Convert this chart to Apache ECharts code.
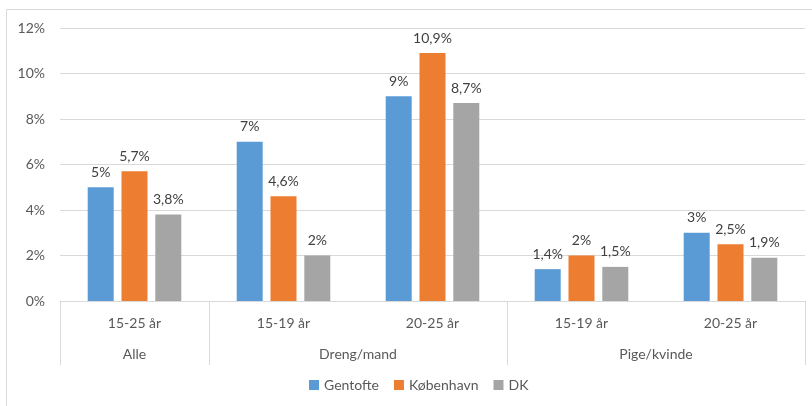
<!DOCTYPE html>
<html>
<head>
<meta charset="utf-8">
<script src="https://cdn.jsdelivr.net/npm/echarts@6/dist/echarts.min.js"></script>
<style>
  html, body { margin: 0; padding: 0; background: #fff; }
  #chart { width: 812px; height: 406px; }
</style>
</head>
<body>
<div id="chart"></div>
<script>
// Age bands along the x axis, grouped by sex
const categories = ['15-25 år', '15-19 år', '20-25 år', '15-19 år', '20-25 år'];
const groupNames = ['Alle', 'Dreng/mand', 'Pige/kvinde'];
const groupSpans = [1, 2, 2];

// Shares in percent
const seriesNames = ['Gentofte', 'København', 'DK'];
const gentofte = [5, 7, 9, 1.4, 3];
const koebenhavn = [5.7, 4.6, 10.9, 2, 2.5];
const dk = [3.8, 2, 8.7, 1.5, 1.9];

const yTicks = [0, 2, 4, 6, 8, 10, 12];

const colors = ['#5B9BD5', '#ED7D31', '#A5A5A5'];
const FONT = 'Lato, "Open Sans", sans-serif';
const FS = 14;

// Group separators and group label centres on a 0..N value scale
const boundaries = [0];
const centres = [];
groupSpans.forEach(s => {
  const start = boundaries[boundaries.length - 1];
  centres.push(start + s / 2);
  boundaries.push(start + s);
});

const fmtPct = v => String(v).replace('.', ',') + '%';

const chart = echarts.init(document.getElementById('chart'), null, { renderer: 'canvas' });

const mkSeries = (name, data, i) => ({
  name,
  type: 'bar',
  xAxisIndex: 0,
  data,
  barWidth: 26,
  barGap: '30%',
  itemStyle: { color: colors[i] },
  label: {
    show: true,
    position: 'top',
    distance: 8,
    color: '#404040',
    fontSize: FS,
    fontFamily: FONT,
    formatter: p => fmtPct(p.value)
  }
});

chart.setOption({
  animation: false,
  textStyle: { fontFamily: FONT },
  graphic: [{
    type: 'rect',
    shape: { x: 6.5, y: 9.5, width: 900, height: 500 },
    style: { fill: 'none', stroke: '#d9d9d9', lineWidth: 1 },
    silent: true
  }],
  grid: { left: 60, right: 7, top: 28, bottom: 105 },
  legend: {
    left: 304,
    bottom: 9,
    itemWidth: 10,
    itemHeight: 10,
    itemGap: 15,
    icon: 'rect',
    textStyle: { color: '#595959', fontSize: FS, fontFamily: FONT },
    data: seriesNames
  },
  xAxis: [{
    type: 'category',
    data: categories,
    axisLine: { show: true, lineStyle: { color: '#d9d9d9' } },
    axisTick: { show: false },
    axisLabel: { color: '#595959', fontSize: FS, fontFamily: FONT, margin: 15, interval: 0 }
  }, {
    type: 'value',
    position: 'bottom',
    min: 0,
    max: boundaries[boundaries.length - 1],
    axisLine: { show: false },
    splitLine: { show: false },
    axisTick: {
      show: true,
      customValues: boundaries,
      length: 64,
      lineStyle: { color: '#d9d9d9' }
    },
    axisLabel: {
      customValues: centres,
      margin: 46,
      color: '#595959',
      fontSize: FS,
      fontFamily: FONT,
      formatter: v => groupNames[centres.indexOf(v)] || ''
    }
  }],
  yAxis: {
    type: 'value',
    min: yTicks[0],
    max: yTicks[yTicks.length - 1],
    interval: 2,
    axisLine: { show: false },
    axisTick: { show: false },
    splitLine: { lineStyle: { color: '#d9d9d9' } },
    axisLabel: { color: '#595959', fontSize: FS, fontFamily: FONT, margin: 15, formatter: v => v + '%' }
  },
  series: [
    mkSeries(seriesNames[0], gentofte, 0),
    mkSeries(seriesNames[1], koebenhavn, 1),
    mkSeries(seriesNames[2], dk, 2)
  ]
});
</script>
</body>
</html>
